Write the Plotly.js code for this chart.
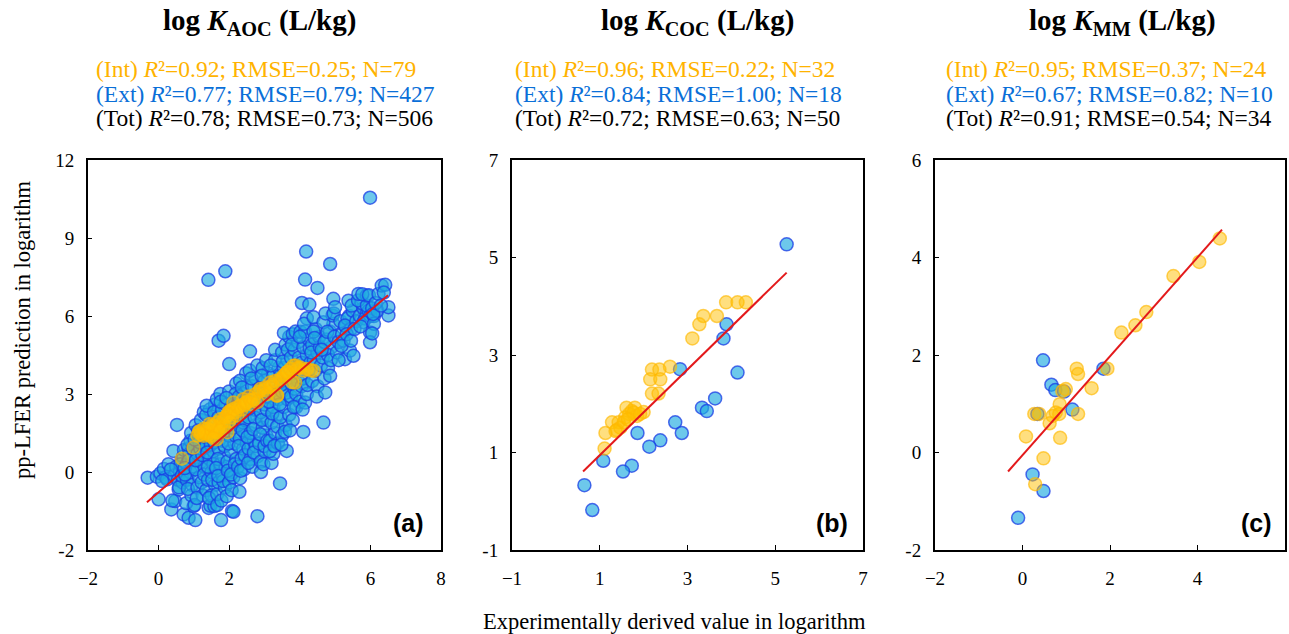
<!DOCTYPE html>
<html>
<head>
<meta charset="utf-8">
<script src="https://cdn.plot.ly/plotly-3.0.1.min.js"></script>
<style>html,body{margin:0;padding:0;background:#fff;}#chart{width:1289px;height:634px;}</style>
</head>
<body>
<div id="chart"></div>
<script>
// ---------- Panel (a): log K_AOC ----------
const aExtX = [
 -0.31,-0.05,0.05,0.2,0.15,0.0,0.24,0.1,0.28,
 0.36,0.47,0.57,0.42,0.45,0.5,0.6,0.65,0.55,0.7,0.68,0.71,0.62,0.39,0.58,0.35,0.66,0.52,0.72,
 0.85,0.8,0.9,0.95,0.85,0.9,0.8,0.95,0.99,0.75,0.88,1.0,0.92,0.82,0.78,0.93,0.86,0.97,0.74,0.83,
 1.04,1.02,1.1,1.15,1.05,1.2,1.1,1.25,1.15,1.3,1.05,1.2,1.25,1.3,1.18,1.28,1.12,1.08,1.22,1.06,1.16,1.24,1.02,1.29,
 1.42,1.47,1.58,1.35,1.4,1.5,1.45,1.55,1.35,1.5,1.4,1.55,1.45,1.6,1.35,1.6,1.5,1.55,1.4,1.6,1.41,1.33,1.48,1.38,1.58,1.43,1.52,1.36,1.57,
 1.66,1.77,1.66,1.7,1.8,1.75,1.85,1.7,1.8,1.65,1.85,1.7,1.8,1.65,1.9,1.75,1.88,1.9,1.82,1.68,1.7,1.84,1.89,1.78,1.72,1.87,1.63,1.76,1.83,1.69,
 1.93,2.08,2.12,2.0,2.1,1.95,2.05,2.15,2.0,2.1,1.95,2.2,2.05,2.15,2.0,2.2,2.12,2.2,1.98,2.15,2.18,2.0,2.07,1.96,2.16,2.03,1.92,2.1,2.05,2.18,
 2.29,2.31,2.25,2.35,2.4,2.3,2.45,2.25,2.35,2.45,2.3,2.4,2.5,2.4,2.48,2.31,2.42,2.5,2.28,2.45,2.38,2.27,2.44,2.33,2.47,2.24,2.36,
 2.6,2.55,2.7,2.6,2.75,2.55,2.7,2.6,2.8,2.65,2.75,2.58,2.8,2.59,2.65,2.8,2.72,2.8,2.75,2.52,2.68,2.57,2.78,2.63,2.54,2.7,
 2.9,3.0,2.85,3.05,2.95,3.1,2.9,3.0,3.1,2.85,3.0,3.1,2.95,3.05,2.9,3.0,2.88,3.08,2.93,3.02,2.84,3.07,2.97,2.92,
 3.2,3.25,3.15,3.3,3.2,3.35,3.25,3.4,3.2,3.35,3.25,3.4,3.3,3.15,3.38,3.22,3.32,3.18,3.36,3.28,3.13,3.3,
 3.44,3.63,3.5,3.6,3.45,3.55,3.65,3.5,3.6,3.45,3.55,3.65,3.5,3.6,3.7,3.7,3.68,3.48,3.58,3.43,3.52,3.62,3.66,3.55,3.47,
 3.8,3.9,3.75,3.85,3.95,3.8,3.9,3.75,3.85,3.95,3.8,3.9,4.0,3.72,3.88,3.78,3.98,3.83,3.93,3.76,4.02,
 4.1,4.15,4.05,4.2,4.1,4.25,4.05,4.2,4.1,4.25,4.15,4.0,4.3,4.18,4.15,4.06,4.27,4.2,4.12,4.28,4.08,4.22,
 4.35,4.45,4.4,4.5,4.35,4.55,4.45,4.6,4.5,4.39,4.5,4.39,4.33,4.48,4.57,4.42,
 4.67,4.72,4.7,4.8,4.65,4.9,4.75,4.85,4.95,4.86,4.8,4.7,4.86,4.67,4.93,4.95,4.73,4.96,4.78,4.62,4.88,4.98,
 5.0,5.05,5.1,5.2,5.3,5.15,5.4,5.35,5.45,5.5,5.24,5.28,5.42,5.52,5.1,5.38,5.47,5.28,5.33,5.18,5.45,
 5.6,5.7,5.8,5.9,5.75,5.85,5.95,5.65,5.9,6.0,5.66,5.9,5.77,5.96,5.8,5.99,5.99,5.99,5.55,5.72,
 6.05,6.1,6.2,6.1,6.08,6.15,6.23,6.32,6.42,6.51,6.51,6.05,6.3,6.38
];
const aExtY = [
 -0.22,-0.18,-0.05,-0.2,0.12,-1.05,-0.28,-0.35,0.3,
 -1.44,-1.12,-0.67,0.81,-0.14,0.2,0.0,0.45,-0.3,0.6,-0.4,-1.63,0.3,-1.1,-0.59,0.1,-0.15,1.81,0.85,
 -1.76,0.3,0.0,0.5,0.9,1.2,-0.3,-0.5,-1.31,-0.1,0.7,0.2,1.5,1.05,-1.2,-0.9,0.45,0.9,0.15,-0.65,
 -1.85,-1.27,-0.6,-0.2,0.1,0.4,0.7,1.0,1.3,1.6,1.8,2.0,-0.9,0.2,0.9,2.3,1.6,-1.0,-0.4,0.45,1.15,0.65,1.25,-0.1,
 -1.38,-1.3,-1.31,-0.7,-0.3,0.0,0.5,0.8,1.0,1.3,1.7,2.0,2.4,2.6,2.2,-0.5,-0.9,0.3,0.2,1.6,7.39,1.35,1.05,0.75,1.15,-1.0,-0.3,2.55,2.3,
 -1.27,-1.85,-0.85,-0.4,-0.1,0.3,0.6,0.9,1.2,1.5,1.8,2.1,2.4,2.8,2.6,3.0,-0.6,0.2,1.5,0.5,5.05,5.24,7.72,-1.1,1.25,1.0,0.15,2.7,-0.35,-0.15,
 -0.93,-1.5,-1.53,-0.4,0.0,0.4,0.8,1.1,1.4,1.7,2.0,2.2,2.5,2.8,3.1,3.4,-0.2,0.5,1.1,1.9,3.0,4.15,-0.7,0.05,0.3,1.85,2.85,2.25,-0.1,1.4,
 -0.76,-0.24,0.2,0.5,0.9,1.3,1.5,1.8,2.1,2.4,2.7,3.0,3.3,1.9,3.8,3.51,0.1,1.1,2.9,2.0,1.6,1.0,0.65,0.05,2.75,2.45,3.25,
 0.5,0.9,1.2,1.5,1.8,2.1,2.4,2.7,3.0,3.3,3.6,3.9,4.1,4.64,0.2,0.6,2.1,-1.7,1.0,1.35,1.65,2.45,2.65,3.6,0.35,0.75,
 0.4,0.8,1.1,1.4,1.7,2.0,2.3,2.6,2.9,3.2,3.5,3.8,4.0,4.3,0.0,1.0,1.45,1.2,2.0,3.05,2.7,2.4,0.3,3.7,
 0.35,0.7,1.2,1.5,1.9,2.2,2.5,2.8,3.1,3.4,3.7,4.0,4.3,0.8,1.1,2.25,3.0,4.1,1.75,1.0,2.7,4.7,
 -0.44,0.81,1.4,1.8,2.1,2.5,2.8,3.1,3.4,3.7,4.0,4.3,4.6,4.9,5.2,2.2,3.6,1.05,1.55,2.6,4.25,3.05,4.7,5.35,3.35,
 2.0,2.5,2.9,3.2,3.5,3.8,4.1,4.4,4.7,5.0,5.3,3.0,2.7,1.6,5.4,4.9,4.4,2.5,3.85,3.4,5.39,
 1.54,2.67,3.3,3.0,3.6,3.9,4.2,4.5,4.8,5.1,5.4,5.2,4.2,8.48,7.4,6.5,6.44,5.91,5.7,4.75,2.4,3.35,
 3.5,3.9,4.3,4.6,4.9,5.2,5.5,4.1,3.3,5.95,7.08,5.4,4.6,2.9,4.8,5.15,
 1.9,3.06,3.6,4.0,4.4,4.8,5.1,5.4,5.7,3.7,4.5,5.0,8.0,5.76,6.02,6.66,6.1,6.1,5.39,4.7,4.3,5.2,
 6.34,4.6,5.0,5.3,5.6,5.8,6.0,5.9,5.5,6.2,5.05,4.34,4.67,4.47,4.3,6.59,6.4,5.63,5.3,4.85,5.05,
 5.8,6.0,6.3,6.1,6.5,5.9,6.2,6.6,6.4,6.0,6.85,6.79,6.84,6.8,5.76,5.37,4.99,10.55,5.5,5.6,
 6.3,6.0,6.2,5.7,6.08,6.5,6.85,7.17,7.2,6.02,6.34,5.33,6.4,6.9
];
const aIntX = [
 0.66,0.99,1.1,1.18,1.2,1.28,1.27,1.32,1.37,1.4,
 1.46,1.5,1.52,1.56,1.6,1.65,1.66,1.65,1.7,1.75,
 1.8,1.84,1.88,1.93,1.95,1.98,2.03,2.04,2.08,2.12,
 2.12,2.18,2.23,2.25,2.31,2.35,2.4,2.42,2.46,2.5,
 2.55,2.61,2.65,2.69,2.75,2.8,2.85,2.88,2.98,3.02,
 3.08,3.16,3.17,3.22,3.3,3.35,3.36,3.44,3.5,3.54,
 3.6,3.63,3.65,3.73,3.79,3.82,3.87,3.88,3.95,4.01,
 4.1,4.2,4.31,4.39,1.45,1.75,2.0,1.14,1.55
];
const aIntY = [
 0.51,0.94,1.4,1.58,1.45,1.66,1.39,1.5,1.65,1.45,
 1.39,1.6,1.79,1.77,1.55,1.9,1.53,1.26,1.7,2.03,
 1.92,1.77,2.1,2.16,1.53,2.3,2.29,2.37,2.1,2.42,
 2.67,2.3,2.17,2.5,2.55,2.4,2.8,2.56,2.65,2.67,
 2.9,2.75,2.6,2.8,3.0,2.69,3.1,3.19,3.14,3.25,
 3.0,3.44,3.27,3.35,3.5,2.93,2.95,3.57,3.59,3.7,
 3.75,3.83,3.85,3.96,3.46,4.09,3.44,4.1,4.0,4.02,
 3.9,3.96,3.91,3.89,1.85,1.6,1.95,1.53,1.3
];
const aFitX = [-0.33, 6.5];
const aFitY = [-1.16, 6.8];

// ---------- Panel (b): log K_COC ----------
const bExtX = [5.26,3.89,3.82,2.83,4.14,3.63,3.33,3.44,2.72,2.87,2.38,2.13,1.86,1.73,1.53,1.08,0.65,0.83];
const bExtY = [5.27,3.63,3.34,2.71,2.64,2.11,1.92,1.85,1.62,1.40,1.25,1.12,1.40,0.73,0.61,0.83,0.33,-0.18];
const bIntX = [3.88,4.14,4.33,3.36,3.27,3.67,3.11,2.60,2.19,2.36,2.15,2.38,2.19,2.34,1.61,1.80,1.73,1.67,2.0,1.85,
               1.58,1.28,1.43,1.39,1.47,1.55,1.13,1.11,1.36,1.77,1.92,1.64];
const bIntY = [4.08,4.08,4.08,3.80,3.63,3.80,3.34,2.76,2.70,2.70,2.50,2.50,2.21,2.21,1.92,1.92,1.85,1.79,1.83,1.75,
               1.72,1.62,1.62,1.46,1.51,1.62,1.40,1.08,1.44,1.82,1.79,1.68];
const bFitX = [0.62, 5.26];
const bFitY = [0.61, 4.69];

// ---------- Panel (c): log K_MM ----------
const cExtX = [0.47,0.66,0.75,0.34,1.14,1.85,0.23,0.48,-0.10,0.95];
const cExtY = [1.89,1.39,1.28,0.79,0.88,1.72,-0.45,-0.79,-1.34,1.25];
const cIntX = [4.51,4.04,3.45,2.83,2.58,2.26,1.94,1.24,1.27,1.58,0.91,0.99,0.85,1.27,0.84,0.69,0.62,0.27,0.38,0.08,0.86,0.48,0.29,0.76];
const cIntY = [4.39,3.91,3.62,2.88,2.61,2.46,1.72,1.72,1.61,1.32,1.26,1.30,0.99,0.79,0.79,0.75,0.60,0.79,0.79,0.33,0.30,-0.12,-0.65,0.82];
const cFitX = [-0.33, 4.56];
const cFitY = [-0.39, 4.57];

// ---------- Text ----------
const panelTitles = ['AOC', 'COC', 'MM'];
const panelTags = ['(a)', '(b)', '(c)'];
const intR2 = ['0.92', '0.96', '0.95'], intRMSE = ['0.25', '0.22', '0.37'], intN = ['79', '32', '24'];
const extR2 = ['0.77', '0.84', '0.67'], extRMSE = ['0.79', '1.00', '0.82'], extN = ['427', '18', '10'];
const totR2 = ['0.78', '0.72', '0.91'], totRMSE = ['0.73', '0.63', '0.54'], totN = ['506', '50', '34'];
const xTicksA = [-2, 0, 2, 4, 6, 8];
const yTicksA = [-3, 0, 3, 6, 9, 12], yTickTextA = ['-2', '0', '3', '6', '9', '12'];
const xTicksB = [-1, 1, 3, 5, 7];
const yTicksB = [-1, 1, 3, 5, 7], yTickTextB = ['-1', '1', '3', '5', '7'];
const xTicksC = [-2, 0, 2, 4, 6];
const yTicksC = [-2, 0, 2, 4, 6], yTickTextC = ['-2', '0', '2', '4', '6'];

// ---------- Styles ----------
const SERIF = '"Liberation Serif", "Times New Roman", serif';
const W = 1289, H = 634;
const ORANGE_TXT = '#FFB300', BLUE_TXT = '#0A6FD8';
const extMarker = {size: 13, color: 'rgba(30,170,225,0.65)', line: {color: 'rgba(25,60,230,0.75)', width: 1.5}};
const intMarker = {size: 13, color: 'rgba(255,192,0,0.5)', line: {color: 'rgba(255,185,0,0.65)', width: 1.5}};
const fitLine = {color: '#E3191B', width: 2};

const sets = [
  {xa: 'x', ya: 'y', ex: aExtX, ey: aExtY, ix: aIntX, iy: aIntY, fx: aFitX, fy: aFitY},
  {xa: 'x2', ya: 'y2', ex: bExtX, ey: bExtY, ix: bIntX, iy: bIntY, fx: bFitX, fy: bFitY},
  {xa: 'x3', ya: 'y3', ex: cExtX, ey: cExtY, ix: cIntX, iy: cIntY, fx: cFitX, fy: cFitY}
];
const traces = [];
sets.forEach(s => {
  traces.push({type: 'scatter', mode: 'markers', x: s.ex, y: s.ey, xaxis: s.xa, yaxis: s.ya, marker: extMarker, hoverinfo: 'x+y'});
  traces.push({type: 'scatter', mode: 'markers', x: s.ix, y: s.iy, xaxis: s.xa, yaxis: s.ya, marker: intMarker, hoverinfo: 'x+y'});
  traces.push({type: 'scatter', mode: 'lines', x: s.fx, y: s.fy, xaxis: s.xa, yaxis: s.ya, line: fitLine, hoverinfo: 'skip'});
});

// pixel geometry of the three plot boxes
const boxes = [[88, 441], [512, 863], [935, 1285]];
const yTop = 160, yBot = 550;
const yDom = [(H - yBot) / H, (H - yTop) / H];

function xAxis(i, ticks) {
  return {
    domain: [boxes[i][0] / W, boxes[i][1] / W], anchor: i === 0 ? 'y' : 'y' + (i + 1),
    range: [ticks[0], ticks[ticks.length - 1]], tickvals: ticks,
    showline: true, mirror: true, linecolor: '#000', linewidth: 2,
    ticks: 'inside', ticklen: 5, tickwidth: 1, tickcolor: '#000',
    showgrid: false, zeroline: false, ticklabelstandoff: 10,
    tickfont: {family: SERIF, size: 19, color: '#000'}, fixedrange: true
  };
}
function yAxis(i, ticks, text) {
  return {
    domain: yDom, anchor: i === 0 ? 'x' : 'x' + (i + 1),
    range: [ticks[0], ticks[ticks.length - 1]], tickvals: ticks, ticktext: text,
    showline: true, mirror: true, linecolor: '#000', linewidth: 2,
    ticks: 'inside', ticklen: 4, tickwidth: 1, tickcolor: '#000',
    showgrid: false, zeroline: false, ticklabelstandoff: 8,
    tickfont: {family: SERIF, size: 19, color: '#000'}, fixedrange: true
  };
}

const titleCx = [259, 697, 1122];
const statLeft = [94, 513, 944];
const tagCx = [408, 832, 1256];
const ann = [];
for (let i = 0; i < 3; i++) {
  ann.push({xref: 'paper', yref: 'paper', x: titleCx[i] / W, y: 1 - 22 / H, xanchor: 'center', yanchor: 'middle', showarrow: false,
    text: '<b>log <i>K</i><sub>' + panelTitles[i] + '</sub> (L/kg)</b>', font: {family: SERIF, size: 29, color: '#000'}});
  const lines = [
    ['(Int)', intR2[i], intRMSE[i], intN[i], ORANGE_TXT, 69],
    ['(Ext)', extR2[i], extRMSE[i], extN[i], BLUE_TXT, 94],
    ['(Tot)', totR2[i], totRMSE[i], totN[i], '#000', 118]
  ];
  lines.forEach(L => {
    ann.push({xref: 'paper', yref: 'paper', x: statLeft[i] / W, y: 1 - L[5] / H, xanchor: 'left', yanchor: 'middle', showarrow: false,
      text: L[0] + ' <i>R</i>\u00B2=' + L[1] + '; RMSE=' + L[2] + '; N=' + L[3],
      font: {family: SERIF, size: 23.5, color: L[4]}});
  });
  ann.push({xref: 'paper', yref: 'paper', x: tagCx[i] / W, y: 1 - 523 / H, xanchor: 'center', yanchor: 'middle', showarrow: false,
    text: '<b>' + panelTags[i] + '</b>', font: {family: '"Liberation Sans", Arial, sans-serif', size: 25, color: '#000'}});
}
ann.push({xref: 'paper', yref: 'paper', x: 22 / W, y: 1 - 330 / H, xanchor: 'center', yanchor: 'middle', showarrow: false, textangle: -90,
  text: 'pp-LFER prediction in logarithm', font: {family: SERIF, size: 22.5, color: '#000'}});
ann.push({xref: 'paper', yref: 'paper', x: 674 / W, y: 1 - 621 / H, xanchor: 'center', yanchor: 'middle', showarrow: false,
  text: 'Experimentally derived value in logarithm', font: {family: SERIF, size: 22.5, color: '#000'}});

const layout = {
  width: W, height: H, margin: {l: 0, r: 0, t: 0, b: 0},
  paper_bgcolor: '#fff', plot_bgcolor: '#fff', showlegend: false,
  xaxis: xAxis(0, xTicksA), yaxis: yAxis(0, yTicksA, yTickTextA),
  xaxis2: xAxis(1, xTicksB), yaxis2: yAxis(1, yTicksB, yTickTextB),
  xaxis3: xAxis(2, xTicksC), yaxis3: yAxis(2, yTicksC, yTickTextC),
  annotations: ann
};
Plotly.newPlot('chart', traces, layout, {displayModeBar: false, staticPlot: true});
</script>
</body>
</html>
